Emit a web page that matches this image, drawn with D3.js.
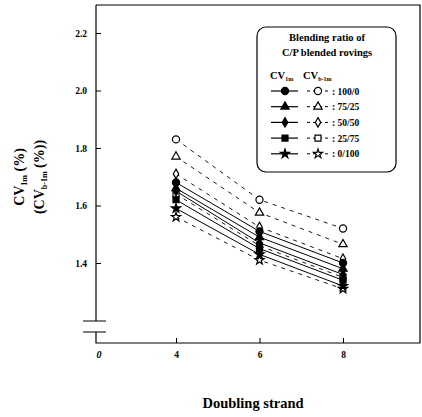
<!DOCTYPE html>
<html><head><meta charset="utf-8">
<script src="https://cdn.jsdelivr.net/npm/d3@7"></script>
<style>body{margin:0;background:#fff}svg{display:block}text{font-family:"Liberation Serif","Times New Roman",serif;font-weight:bold;fill:#000}</style>
</head><body><svg id="c" width="422" height="417"></svg>
<script>
const strands = [4, 6, 8];
const ratios = ["100/0", "75/25", "50/50", "25/75", "0/100"];
const symbolNames = ["circle", "triangle", "diamond", "square", "star"];
// CV1m (solid, filled markers)
const cv_100_0 = [1.68, 1.51, 1.40];
const cv_75_25 = [1.66, 1.49, 1.38];
const cv_50_50 = [1.65, 1.47, 1.36];
const cv_25_75 = [1.62, 1.45, 1.34];
const cv_0_100 = [1.59, 1.43, 1.32];
// CVb-1m (dashed, open markers)
const cvb_100_0 = [1.83, 1.62, 1.52];
const cvb_75_25 = [1.77, 1.575, 1.465];
const cvb_50_50 = [1.71, 1.525, 1.415];
const cvb_25_75 = [1.64, 1.46, 1.35];
const cvb_0_100 = [1.56, 1.41, 1.31];
const yTicks = [1.4, 1.6, 1.8, 2.0, 2.2];

const cvSeries = [cv_100_0, cv_75_25, cv_50_50, cv_25_75, cv_0_100];
const cvbSeries = [cvb_100_0, cvb_75_25, cvb_50_50, cvb_25_75, cvb_0_100];

const svg = d3.select("#c");
const L = 96, T = 5, R = 420, B = 343, BRK1 = 321, BRK2 = 332;
const x = d3.scaleLinear().domain([4, 8]).range([176, 343]);
const y = d3.scaleLinear().domain([1.2, 2.2]).range([320.5, 33]);

const symMap = {circle: d3.symbolCircle, triangle: d3.symbolTriangle, diamond: d3.symbolDiamond, square: d3.symbolSquare, star: d3.symbolStar};
const sizeMap = {circle: 40, triangle: 30, diamond: 26, square: 36, star: 26};

// frame
svg.append("path").attr("d", `M${L},${T}H${R}V${B}H${L}V${BRK2}`).attr("fill", "none").attr("stroke", "#000").attr("stroke-width", 1.2);
svg.append("path").attr("d", `M${L},${T}V${BRK1}`).attr("fill", "none").attr("stroke", "#000").attr("stroke-width", 1.2);
svg.append("path").attr("d", `M${L-13},${BRK1}H${L+10}M${L-13},${BRK2}H${L+10}`).attr("stroke", "#000").attr("stroke-width", 1.2);

// axes
const ya = svg.append("g").attr("transform", `translate(${L},0)`)
  .call(d3.axisLeft(y).tickValues(yTicks).tickFormat(d3.format(".1f")).tickSizeInner(-5).tickSizeOuter(0).tickPadding(9));
ya.select(".domain").remove();
ya.selectAll("text").style("font-size", "9.5px");
const xa = svg.append("g").attr("transform", `translate(0,${B})`)
  .call(d3.axisBottom(x).tickValues(strands).tickFormat(d3.format("d")).tickSizeInner(-5).tickSizeOuter(0).tickPadding(8));
xa.select(".domain").remove();
xa.selectAll("text").style("font-size", "9.5px");
svg.append("text").attr("x", L + 3).attr("y", 358).attr("text-anchor", "middle").style("font-size", "10px").style("font-style", "italic").text("0");

// lines
const line = d3.line().x((d, i) => x(strands[i])).y(d => y(d));
cvbSeries.forEach(s => svg.append("path").attr("d", line(s)).attr("fill", "none").attr("stroke", "#000").attr("stroke-width", 0.9).attr("stroke-dasharray", "4,5"));
cvSeries.forEach(s => svg.append("path").attr("d", line(s)).attr("fill", "none").attr("stroke", "#000").attr("stroke-width", 1)); 

function marker(g, name, cx, cy, filled) {
  g.append("path").attr("d", d3.symbol().type(symMap[name]).size(sizeMap[name])())
    .attr("transform", `translate(${cx},${cy})`)
    .attr("fill", filled ? "#000" : "#fff").attr("stroke", "#000").attr("stroke-width", 1.2);
}
cvbSeries.forEach((s, k) => s.forEach((v, i) => marker(svg, symbolNames[k], x(strands[i]), y(v), false)));
cvSeries.forEach((s, k) => s.forEach((v, i) => marker(svg, symbolNames[k], x(strands[i]), y(v), true)));

// legend
const lg = svg.append("g");
lg.append("rect").attr("x", 257).attr("y", 27).attr("width", 139).attr("height", 145).attr("rx", 9).attr("fill", "#fff").attr("stroke", "#000").attr("stroke-width", 1.2);
lg.append("text").attr("x", 327).attr("y", 41).attr("text-anchor", "middle").style("font-size", "10.5px").text("Blending ratio of");
lg.append("text").attr("x", 327).attr("y", 56).attr("text-anchor", "middle").style("font-size", "10.5px").text("C/P blended rovings");
const h1 = lg.append("text").attr("x", 270).attr("y", 79).style("font-size", "10.5px");
h1.append("tspan").text("CV");
h1.append("tspan").attr("dy", 2).style("font-size", "6px").text("1m");
const h2 = lg.append("text").attr("x", 303).attr("y", 79).style("font-size", "10.5px");
h2.append("tspan").text("CV");
h2.append("tspan").attr("dy", 2).style("font-size", "6px").text("b-1m");
ratios.forEach((r, k) => {
  const yy = 91 + k * 15.7;
  lg.append("line").attr("x1", 271).attr("x2", 298).attr("y1", yy).attr("y2", yy).attr("stroke", "#000").attr("stroke-width", 1.2);
  marker(lg, symbolNames[k], 285, yy, true);
  lg.append("line").attr("x1", 307).attr("x2", 331).attr("y1", yy).attr("y2", yy).attr("stroke", "#000").attr("stroke-width", 1).attr("stroke-dasharray", "3,3");
  marker(lg, symbolNames[k], 318, yy, false);
  lg.append("text").attr("x", 332).attr("y", yy + 3.5).style("font-size", "9.5px").text(": " + r);
});

// axis titles
svg.append("text").attr("x", 253).attr("y", 408).attr("text-anchor", "middle").style("font-size", "14.5px").text("Doubling strand");
const yt = svg.append("g").attr("transform", "translate(24,177) rotate(-90)");
const t1 = yt.append("text").attr("x", 0).attr("y", 0).attr("text-anchor", "middle").style("font-size", "14px");
t1.append("tspan").text("CV");
t1.append("tspan").attr("dy", 3).style("font-size", "8px").text("1m");
t1.append("tspan").attr("dy", -3).text(" (%)");
const t2 = yt.append("text").attr("x", 0).attr("y", 20).attr("text-anchor", "middle").style("font-size", "14px");
t2.append("tspan").text("(CV");
t2.append("tspan").attr("dy", 3).style("font-size", "8px").text("b-1m");
t2.append("tspan").attr("dy", -3).text(" (%))");
</script></body></html>
